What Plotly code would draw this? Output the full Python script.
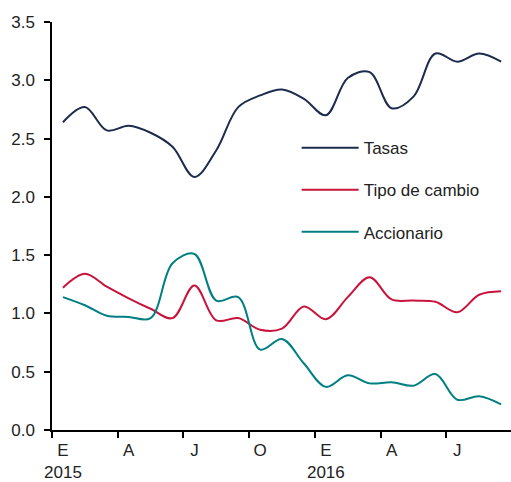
import plotly.graph_objects as go

months = ["2015-01", "2015-02", "2015-03", "2015-04", "2015-05", "2015-06", "2015-07",
          "2015-08", "2015-09", "2015-10", "2015-11", "2015-12", "2016-01", "2016-02",
          "2016-03", "2016-04", "2016-05", "2016-06", "2016-07", "2016-08", "2016-09"]

tasas = [2.64, 2.77, 2.57, 2.61, 2.55, 2.43, 2.17, 2.40, 2.77, 2.87, 2.92, 2.84, 2.70,
         3.02, 3.07, 2.76, 2.86, 3.23, 3.16, 3.23, 3.16]
tipo_cambio = [1.22, 1.34, 1.23, 1.13, 1.04, 0.96, 1.24, 0.94, 0.96, 0.86, 0.87, 1.06, 0.95,
               1.14, 1.31, 1.12, 1.11, 1.10, 1.01, 1.16, 1.19]
accionario = [1.14, 1.07, 0.98, 0.97, 0.96, 1.43, 1.51, 1.11, 1.14, 0.69, 0.78, 0.57, 0.37,
              0.47, 0.40, 0.41, 0.38, 0.48, 0.26, 0.29, 0.22]

series_names = ["Tasas", "Tipo de cambio", "Accionario"]
series_colors = ["#1C2C4C", "#C8143C", "#007F82"]

tick_positions = [0, 3, 6, 9, 12, 15, 18]
tick_labels = ["E<br>2015", "A", "J", "O", "E<br>2016", "A", "J"]

x = list(range(len(months)))

fig = go.Figure()
for i, (name, vals, col) in enumerate(zip(series_names, [tasas, tipo_cambio, accionario], series_colors)):
    fig.add_trace(go.Scatter(
        x=x, y=vals, name=name, mode="lines",
        line=dict(color=col, width=2, shape="spline", smoothing=1.0),
        legendgroup=f"g{i}", customdata=months,
    ))

font = "Liberation Sans, Arial, sans-serif"

fig.update_layout(
    width=511, height=482,
    margin=dict(l=52, r=0, t=22, b=52),
    paper_bgcolor="white", plot_bgcolor="white",
    font=dict(family=font, size=17, color="#222222"),
    showlegend=True,
    legend=dict(x=0.533, y=0.735, xanchor="left", yanchor="top",
                bgcolor="rgba(0,0,0,0)", tracegroupgap=17,
                font=dict(size=17, family=font), itemwidth=57),
    xaxis=dict(
        range=[-0.5, 20.45], showgrid=False, zeroline=False, automargin=False,
        showline=True, linecolor="#000000", linewidth=1.5,
        tickmode="array", tickvals=tick_positions, ticktext=tick_labels,
        ticks="outside", ticklen=4, tickcolor="rgba(0,0,0,0)",
        minor=dict(tickmode="linear", tick0=-0.5, dtick=3, ticks="outside",
                   ticklen=6, tickcolor="#000000", tickwidth=1.5, showgrid=False),
        tickfont=dict(size=17),
    ),
    yaxis=dict(
        range=[0, 3.5], showgrid=False, zeroline=False, automargin=False,
        showline=True, linecolor="#000000", linewidth=1.5,
        tickmode="linear", tick0=0, dtick=0.5, tickformat=".1f",
        ticks="outside", ticklen=6, tickcolor="#000000", tickwidth=1.5,
        tickfont=dict(size=17), ticklabelstandoff=6,
    ),
)

fig.write_html("out.html", config={"displayModeBar": False},
               post_script="document.body.style.margin='0';document.body.style.padding='0';")
